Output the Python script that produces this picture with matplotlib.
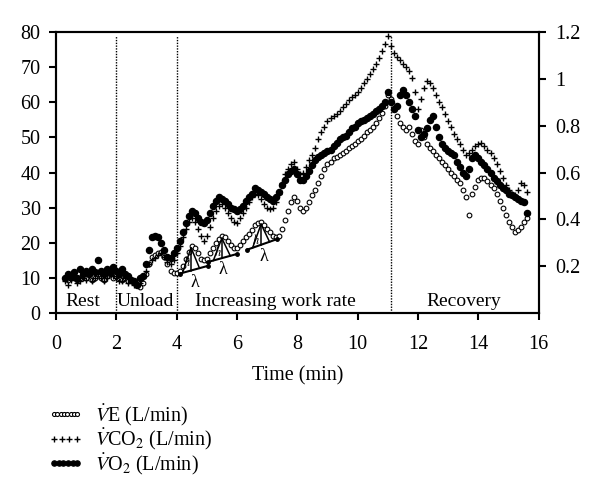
import numpy as np
import matplotlib
matplotlib.use("Agg")
import matplotlib.pyplot as plt
from matplotlib.legend_handler import HandlerLine2D

plt.rcParams['font.family'] = ['Liberation Serif', 'DejaVu Serif']
plt.rcParams['mathtext.fontset'] = 'stix'

# ---------------- data ----------------
time_min = np.round(np.arange(0.3, 15.65, 0.1), 2)

ve = [10, 9.5, 10, 10.5, 9.5, 10, 10.5,
      10, 11, 9.5, 10, 11, 10, 9.5, 10.5, 11, 10,
      10.5, 10, 9.5, 10, 9, 9.5, 8.5, 8, 7.5, 8.5,
      11, 14, 16, 16.5, 17, 17.5, 16, 14, 12, 11.5,
      11.5, 12, 13.5, 15.5, 17.5, 19, 18.5, 17, 15.5, 15,
      15.5, 17, 18.5, 20, 21, 22, 21.5, 20.5, 19.5, 18.5,
      18.5, 19.5, 20.5, 21.5, 22.5, 23.5, 25, 25.5, 26, 25,
      24, 23, 22, 21.5, 22, 24, 26.5, 29, 31.5, 33,
      32, 30, 29, 30, 31.5, 33.5, 35, 37, 39, 41,
      42.5, 43, 44, 44.5, 45, 45.5, 46, 47, 47.5, 48,
      49, 49.5, 50.5, 51.5, 52, 53, 54, 55.5, 57, 59,
      62, 61, 58, 56, 54, 53, 52, 53, 51, 49,
      48, 52, 50, 48, 47, 46, 45, 44, 43, 42,
      41, 40, 39, 38, 37, 35, 33, 28, 34, 36,
      38, 38.5, 38.5, 37.5, 36.5, 35.5, 34, 32, 30, 28,
      26, 24.5, 23, 23.5, 24.5, 26, 27]

vco2 = [0.135, 0.12, 0.143, 0.15, 0.128, 0.135, 0.15,
        0.143, 0.158, 0.135, 0.15, 0.165, 0.15, 0.135, 0.15, 0.165, 0.158,
        0.15, 0.135, 0.135, 0.15, 0.128, 0.135, 0.12, 0.12, 0.128, 0.15,
        0.18, 0.21, 0.225, 0.233, 0.248, 0.255, 0.24, 0.218, 0.21, 0.225,
        0.255, 0.285, 0.323, 0.36, 0.39, 0.405, 0.39, 0.36, 0.33, 0.308,
        0.33, 0.368, 0.405, 0.435, 0.458, 0.465, 0.45, 0.428, 0.405, 0.39,
        0.383, 0.405, 0.428, 0.45, 0.473, 0.495, 0.51, 0.503, 0.488, 0.465,
        0.45, 0.443, 0.45, 0.473, 0.51, 0.555, 0.593, 0.615, 0.638, 0.645,
        0.615, 0.593, 0.6, 0.623, 0.653, 0.675, 0.705, 0.743, 0.773, 0.795,
        0.818, 0.833, 0.84, 0.848, 0.863, 0.878, 0.893, 0.908, 0.923, 0.93,
        0.945, 0.96, 0.983, 0.998, 1.02, 1.043, 1.065, 1.088, 1.118, 1.148,
        1.185, 1.14, 1.11, 1.095, 1.08, 1.065, 1.05, 1.035, 1.005, 0.945,
        0.87, 0.915, 0.96, 0.99, 0.983, 0.96, 0.93, 0.9, 0.878, 0.848,
        0.818, 0.795, 0.765, 0.743, 0.72, 0.698, 0.675, 0.683, 0.698, 0.713,
        0.72, 0.728, 0.713, 0.698, 0.683, 0.66, 0.638, 0.608, 0.578, 0.548,
        0.525, 0.51, 0.503, 0.525, 0.555, 0.548, 0.518]

vo2 = [0.15, 0.165, 0.158, 0.173, 0.15, 0.188, 0.165,
       0.18, 0.165, 0.188, 0.173, 0.225, 0.18, 0.165, 0.188, 0.173, 0.195,
       0.18, 0.165, 0.188, 0.165, 0.158, 0.143, 0.135, 0.12, 0.15, 0.158,
       0.21, 0.27, 0.323, 0.33, 0.323, 0.3, 0.27, 0.24, 0.233, 0.255,
       0.278, 0.308, 0.345, 0.383, 0.413, 0.435, 0.428, 0.405, 0.39, 0.383,
       0.398, 0.428, 0.458, 0.48, 0.495, 0.488, 0.48, 0.465, 0.45, 0.443,
       0.435, 0.443, 0.458, 0.48, 0.495, 0.51, 0.533, 0.525, 0.518, 0.51,
       0.495, 0.488, 0.48, 0.495, 0.518, 0.548, 0.57, 0.593, 0.608, 0.615,
       0.593, 0.57, 0.57, 0.585, 0.608, 0.63, 0.653, 0.668, 0.675, 0.683,
       0.69, 0.698, 0.713, 0.728, 0.743, 0.75, 0.758, 0.773, 0.788, 0.795,
       0.81, 0.818, 0.825, 0.833, 0.84, 0.848, 0.863, 0.87, 0.885, 0.9,
       0.945, 0.9, 0.87, 0.885, 0.93, 0.953, 0.93, 0.9, 0.87, 0.84,
       0.78, 0.75, 0.765, 0.788, 0.825, 0.84, 0.795, 0.75, 0.72, 0.705,
       0.69, 0.683, 0.675, 0.645, 0.623, 0.6, 0.585, 0.615, 0.66, 0.675,
       0.66, 0.645, 0.63, 0.615, 0.6, 0.578, 0.563, 0.548, 0.533, 0.525,
       0.51, 0.503, 0.495, 0.488, 0.48, 0.473, 0.428]

phase_bounds = [2.0, 4.0, 11.1]
phase_labels = ["Rest", "Unload", "Increasing work rate", "Recovery"]
phase_label_x = [0.9, 2.98, 7.26, 13.5]

# oscillation annotation (left-axis units)
lam_base = [(4.1, 11.2, 5.03, 13.4), (5.03, 14.5, 6.0, 16.8), (6.33, 18.0, 7.32, 21.0)]
lam_apex = [(4.48, 18.6), (5.5, 21.3), (6.8, 25.3)]
lam_text = [(4.6, 8.6), (5.55, 12.3), (6.88, 16.2)]
h_text = [(4.33, 14.4), (5.36, 17.4), (6.63, 20.9)]

# ---------------- figure ----------------
fig = plt.figure(figsize=(6, 5), dpi=100)
ax = fig.add_axes([0.093, 0.374, 0.805, 0.562])
ax2 = ax.twinx()

l_ve, = ax.plot(time_min, ve, linestyle='none', marker='o', ms=3.4,
                mfc='white', mec='black', mew=0.8, zorder=3)
l_co2, = ax2.plot(time_min, vco2, linestyle='none', marker='+', ms=4.5,
                  color='black', mew=1.0, zorder=3)
l_o2, = ax2.plot(time_min, vo2, linestyle='none', marker='o', ms=4.4,
                 color='black', zorder=4)

for xb in phase_bounds:
    ax.axvline(xb, ymin=0, ymax=0.985, color='black', linestyle=(0, (1, 1)), lw=1.0)

for lab, xl in zip(phase_labels, phase_label_x):
    ax.text(xl, 3.2, lab, ha='center', va='center', fontsize=14)

for (x0, y0, x1, y1), (xa, ya), (xt, yt), (xh, yh) in zip(lam_base, lam_apex, lam_text, h_text):
    ax.plot([x0, x1], [y0, y1], color='black', lw=1.5, marker='o', ms=2.5, zorder=5)
    xs_l = xa - 0.28
    xs_r = xa + 0.28
    ys_l = np.interp(xs_l, [x0, x1], [y0, y1])
    ys_r = np.interp(xs_r, [x0, x1], [y0, y1])
    ys_a = np.interp(xa, [x0, x1], [y0, y1])
    ax.plot([xs_l, xa, xs_r], [ys_l, ya, ys_r], color='black', lw=1.1, zorder=5)
    ax.plot([xa, xa], [ys_a, ya], color='black', lw=1.1, zorder=5)
    ax.text(xt, yt, 'λ', ha='center', va='center', fontsize=13)
    ax.text(xh, yh, r'$h$', ha='center', va='center', fontsize=9)

ax.set_xlim(0, 16)
ax.set_ylim(0, 80)
ax2.set_ylim(0, 1.2)
ax.set_xticks(range(0, 17, 2))
ax.set_yticks(range(0, 81, 10))
ax2.set_yticks([0.2, 0.4, 0.6, 0.8, 1.0, 1.2])
ax2.set_yticklabels(['0.2', '0.4', '0.6', '0.8', '1', '1.2'])

for a in (ax, ax2):
    for s in a.spines.values():
        s.set_linewidth(1.5)
ax.tick_params(axis='both', direction='out', width=1.5, length=5, labelsize=14.5)
ax.tick_params(axis='y', pad=6)
ax.tick_params(axis='x', pad=11)
ax2.tick_params(axis='y', direction='out', width=1.5, length=5, labelsize=14.5, pad=7)

ax.set_xlabel('Time (min)', fontsize=14.5, labelpad=9)

handles = [l_ve, l_co2, l_o2]
labels = [r'$\dot{V}$E (L/min)', r'$\dot{V}$CO$_2$ (L/min)', r'$\dot{V}$O$_2$ (L/min)']
fig.legend(handles, labels, loc='upper left', bbox_to_anchor=(0.08, 0.195),
           frameon=False, fontsize=14.5, handlelength=1.75, handletextpad=0.6,
           labelspacing=-0.05, borderaxespad=0, borderpad=0, markerscale=0.85,
           handler_map={l_ve: HandlerLine2D(numpoints=8),
                        l_co2: HandlerLine2D(numpoints=4),
                        l_o2: HandlerLine2D(numpoints=6)})

fig.savefig('out.png', dpi=100)
